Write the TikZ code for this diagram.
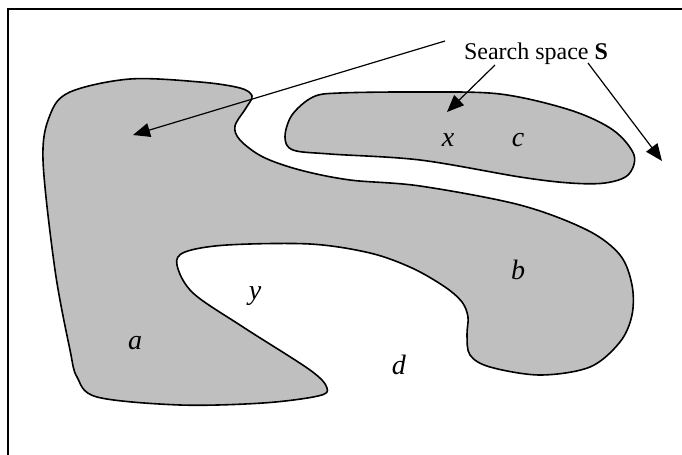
\documentclass[tikz,border=0pt]{standalone}
\usepackage{fontspec}
\setmainfont{Liberation Serif}
\usetikzlibrary{arrows.meta}

\newcommand{\lbl}{\node[font=\itshape\fontsize{14}{16}\selectfont]}
\newcommand{\tip}{\coordinate}

\tikzset{
    region/.style={draw, line width=0.8pt, fill=black!25},
    pointer/.style={-{Triangle[length=8.5pt, width=7pt]}, line width=0.6pt},
}

\begin{document}
\begin{tikzpicture}[x=0.5pt, y=-0.5pt, font=\fontsize{12}{14}\selectfont]
            \useasboundingbox (0,0) rectangle (682,455);

            % frame, cut at the right and bottom
            \draw[line width=0.6pt] (8,470) -- (8,9) -- (700,9);

            % the large connected region (a and b)
            \draw[region] plot[smooth cycle, tension=0.55] coordinates {
                (43,160) (50,115) (70,92) (130,79) (200,82) (240,88) (252,96)
                (246,108) (235,126) (240,140) (263,157) (300,170) (350,180)
                (420,186) (520,205) (587,230) (620,255) (632,285) (632,315)
                (620,342) (590,367) (540,375) (490,367) (470,355) (467,335)
                (468,317) (462,302) (445,287) (412,268) (370,253) (310,244)
                (227,245) (185,252) (177,265) (193,293) (243,327) (310,370)
                (327,388) (318,396) (263,403) (180,405) (97,397) (77,377)
                (70,350) (55,270)
            };

            % the small region (c)
            \draw[region] plot[smooth cycle, tension=0.55] coordinates {
                (285,137) (292,115) (313,97) (340,93) (420,92) (500,94)
                (570,110) (613,130) (634,155) (628,175) (605,183) (570,183)
                (520,177) (420,160) (330,154) (293,150)
            };

            \node[anchor=base] (space) at (536,60) {Search space \textbf{S}};

            \tip (t0) at (445,41);
            \tip (t1) at (133,135);
            \tip (t2) at (495,65);
            \tip (t3) at (447,112);
            \tip (t4) at (588,63);
            \tip (t5) at (662,161);

            \draw[pointer] (t0) -- (t1);
            \draw[pointer] (t2) -- (t3);
            \draw[pointer] (t4) -- (t5);

            \lbl (x) at (448,140) {x};
            \lbl (c) at (518,140) {c};
            \lbl (b) at (518,270) {b};
            \lbl (y) at (255,296) {y};
            \lbl (a) at (135,343) {a};
            \lbl (d) at (399,365) {d};
        \end{tikzpicture}
\end{document}
